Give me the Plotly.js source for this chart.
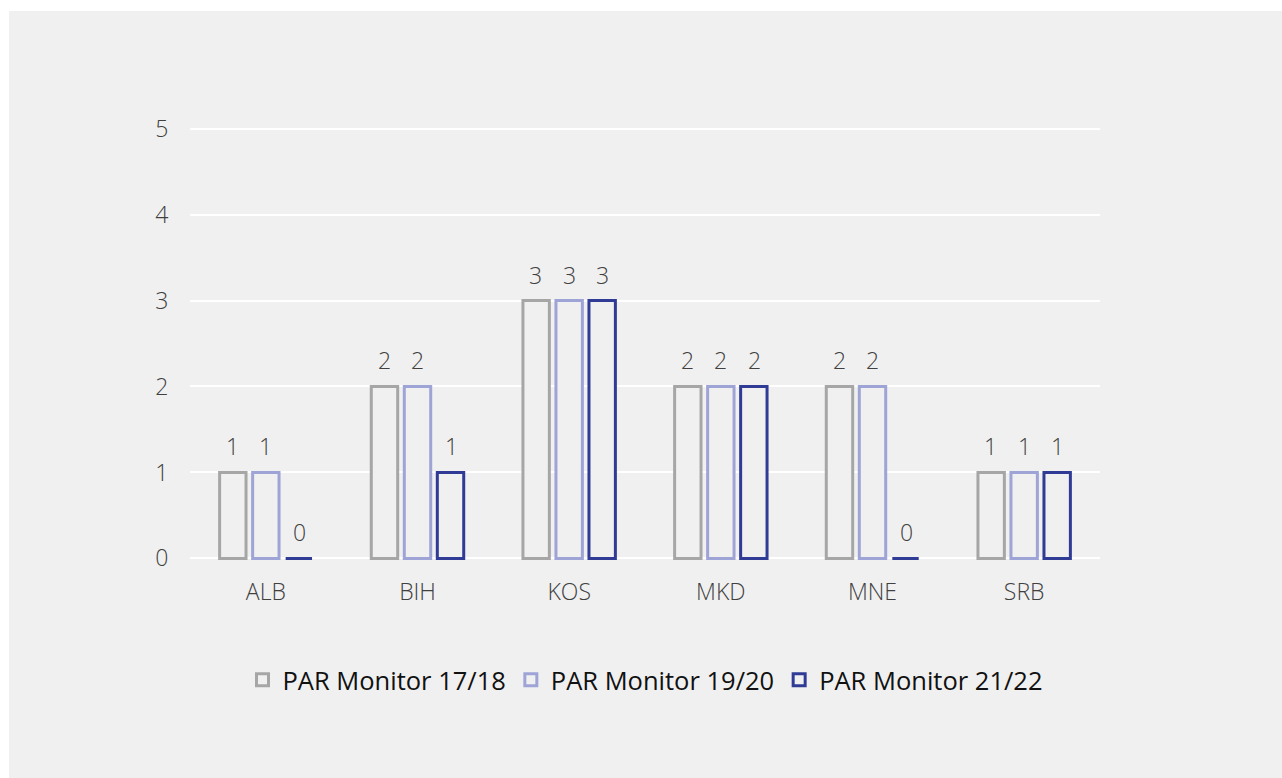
<!DOCTYPE html>
<html>
<head>
<meta charset="utf-8">
<script src="https://cdn.plot.ly/plotly-3.0.1.min.js"></script>
<style>
  html, body { margin: 0; padding: 0; background: #ffffff; width: 1282px; height: 778px; overflow: hidden; }
  #panel { position: absolute; left: 9px; top: 11px; width: 1273px; height: 767px; background: #f0f0f0; }
  #chart { width: 1273px; height: 767px; }
</style>
</head>
<body>
<div id="panel"><div id="chart"></div></div>
<script>
const categories = ['ALB', 'BIH', 'KOS', 'MKD', 'MNE', 'SRB'];
const seriesNames = ['PAR Monitor 17/18', 'PAR Monitor 19/20', 'PAR Monitor 21/22'];
const values1718 = [1, 2, 3, 2, 2, 1];
const values1920 = [1, 2, 3, 2, 2, 1];
const values2122 = [0, 1, 3, 2, 0, 1];
const yTicks = [0, 1, 2, 3, 4, 5];

const colors = ['#a6a6a6', '#9ea4d6', '#2f3b95'];
const allValues = [values1718, values1920, values2122];
const FONT = 'Open Sans, Noto Sans, sans-serif';

const traces = allValues.map((vals, i) => ({
  type: 'bar',
  name: seriesNames[i],
  x: categories,
  y: vals,
  marker: { color: '#f0f0f0', line: { color: colors[i], width: 3 } },
  hoverinfo: 'x+y+name'
}));

// value labels above bars, placed via data coordinates
const slot = 33.5;
const annotations = [];
allValues.forEach((vals, i) => {
  vals.forEach((v, j) => {
    annotations.push({
      x: categories[j], y: v, xref: 'x', yref: 'y',
      text: String(v), showarrow: false,
      xanchor: 'center', yanchor: 'bottom',
      xshift: (i - 1) * slot, yshift: 8,
      font: { family: FONT, size: 23, color: '#404040', weight: 300 }
    });
  });
});

const layout = {
  width: 1273,
  height: 767,
  paper_bgcolor: '#f0f0f0',
  plot_bgcolor: '#f0f0f0',
  margin: { l: 181, r: 182, t: 115, b: 217 },
  barmode: 'group',
  bargap: 0.347,
  bargroupgap: 0.2,
  showlegend: true,
  annotations: annotations,
  legend: {
    orientation: 'h',
    x: 0.5, xanchor: 'center',
    y: -0.274, yanchor: 'middle',
    font: { family: FONT, size: 25.5, color: '#111111' },
    itemwidth: 30,
    traceorder: 'normal',
    bgcolor: 'rgba(0,0,0,0)'
  },
  xaxis: {
    type: 'category',
    showgrid: false,
    zeroline: false,
    showline: false,
    ticks: 'outside',
    ticklen: 10,
    tickcolor: 'rgba(0,0,0,0)',
    tickfont: { family: FONT, size: 23, color: '#404040', weight: 300 }
  },
  yaxis: {
    range: [-0.03, 5.03],
    tickvals: yTicks,
    ticktext: yTicks.map(String),
    showgrid: true,
    gridcolor: '#ffffff',
    gridwidth: 2,
    zeroline: false,
    showline: false,
    ticks: 'outside',
    ticklen: 16,
    tickcolor: 'rgba(0,0,0,0)',
    tickfont: { family: FONT, size: 23, color: '#404040', weight: 300 }
  }
};

Plotly.newPlot('chart', traces, layout, { displayModeBar: false, responsive: false });
</script>
</body>
</html>
